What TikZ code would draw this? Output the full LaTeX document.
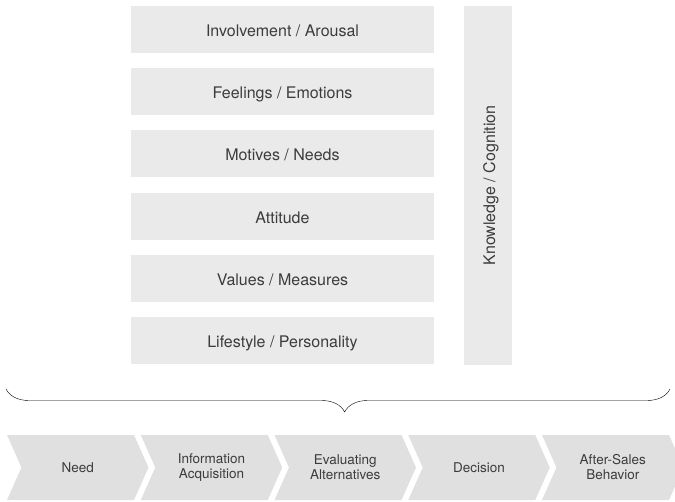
\documentclass[tikz,border=0pt]{standalone}
\usepackage{fontspec}
\setmainfont{TeX Gyre Heros}
\usetikzlibrary{calc,shapes,arrows,decorations.pathreplacing}
\definecolor{boxgray}{RGB}{234,234,234}
\definecolor{stepgray}{RGB}{224,224,224}
\definecolor{textgray}{RGB}{60,60,60}
\tikzset{
  factor/.style={fill=boxgray, text=textgray, inner sep=0pt,
    minimum width=303pt, minimum height=47pt,
    text height=16pt, text depth=2pt,
    font=\fontsize{16}{19}\selectfont},
  phase/.style={signal, signal to=east, signal from=west,
    signal pointer angle=132, fill=stepgray, text=textgray, inner sep=0pt,
    minimum width=141.5pt, minimum height=65pt, align=center,
    font=\fontsize{13.5}{15}\selectfont}
}

\begin{document}
\begin{tikzpicture}[x=1pt,y=-1pt]
        \useasboundingbox (0,0) rectangle (675,501);
        % factors
        \foreach \txt [count=\i from 0] in {Involvement / Arousal,Feelings / Emotions,Motives / Needs,Attitude,Values / Measures,Lifestyle / Personality}
        \node[factor] (f\i) at (282.5,{29.5+62.2*\i}) {\txt};
        \node[factor, minimum width=359pt, minimum height=48pt, rotate=90]
            (know) at (488,185.5) {Knowledge / Cognition};
        % brace
        \coordinate (bl) at (6,389);
        \coordinate (br) at (670,389);
        \draw[thin, decorate, decoration={brace, mirror, amplitude=23pt, aspect=0.51}] (bl) -- (br);
        % buying process
        \foreach \txt [count=\i from 0] in {Need,Information\\Acquisition,Evaluating\\Alternatives,Decision,After-Sales\\Behavior}
        \node[phase] (p\i) at ({77.75+133.75*\i},467.5) {\txt};
    \end{tikzpicture}
\end{document}
